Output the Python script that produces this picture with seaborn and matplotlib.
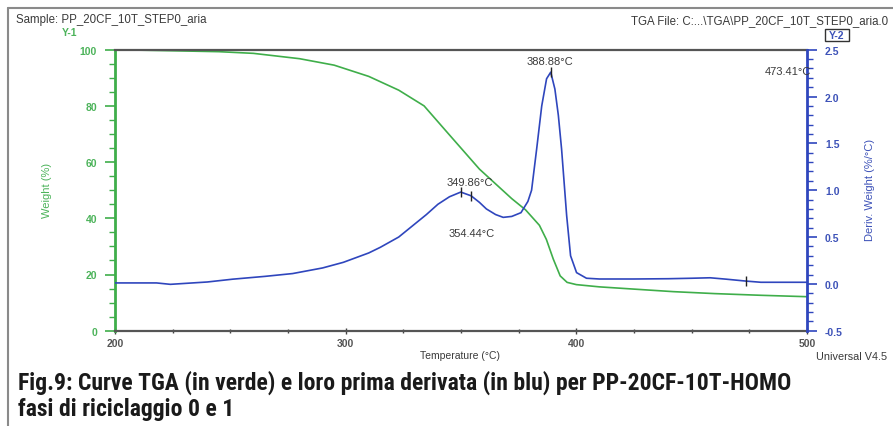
import numpy as np
import pandas as pd
import matplotlib
matplotlib.use("Agg")
import matplotlib.pyplot as plt
from matplotlib.lines import Line2D
from matplotlib.patches import Rectangle
from matplotlib.ticker import MultipleLocator
import seaborn as sns
import logging

logging.getLogger("matplotlib.font_manager").setLevel(logging.ERROR)

# TGA weight curve (Y-1)
temp_w = [200, 220, 245, 260, 280, 295, 310, 323, 334, 344, 358, 372, 378,
          384, 387, 390, 393, 396, 400, 410, 425, 442, 460, 480, 500]
weight = [100, 99.7, 99.3, 98.7, 96.8, 94.5, 90.5, 85.6, 80.0, 70.6, 57.5,
          47.0, 43.0, 37.5, 32.5, 25.5, 19.5, 17.2, 16.4, 15.6, 14.8, 13.9,
          13.2, 12.6, 12.1]

# First derivative of weight (Y-2)
temp_d = [200, 218, 224, 240, 251, 265, 277, 290, 299, 310, 315, 323, 329,
          335, 340, 345, 349.9, 354.4, 358, 361, 365, 368.3, 372, 376, 379,
          380.6, 382.8, 385, 387.1, 388.9, 390.7, 392.2, 393.6, 395.8, 397.5,
          400.1, 404.4, 410, 425, 440, 450, 458, 465, 473.4, 480, 490, 500]
deriv = [0.01, 0.01, -0.005, 0.02, 0.05, 0.08, 0.11, 0.17, 0.23, 0.33, 0.39,
         0.50, 0.62, 0.74, 0.85, 0.93, 0.98, 0.94, 0.87, 0.80, 0.74, 0.71,
         0.72, 0.76, 0.88, 1.00, 1.44, 1.90, 2.19, 2.26, 2.08, 1.80, 1.44,
         0.73, 0.30, 0.12, 0.06, 0.052, 0.052, 0.055, 0.06, 0.065, 0.05,
         0.03, 0.017, 0.017, 0.017]

peak_temps = [349.86, 354.44, 388.88, 473.41]
peak_labels = ["349.86°C", "354.44°C", "388.88°C", "473.41°C"]

x_ticks = [200, 300, 400, 500]
w_ticks = [0, 20, 40, 60, 80, 100]
d_ticks = [-0.5, 0.0, 0.5, 1.0, 1.5, 2.0, 2.5]

sns.set_theme(style="white")
plt.rcParams["font.family"] = ["Liberation Sans", "DejaVu Sans"]

GREEN = "#3fae4a"
GREEN_TXT = "#4cb35a"
BLUE = "#2f46bd"
BLUE_TXT = "#3d52b8"
DARK = "#3a3a3a"

W, H = 893, 427
fig = plt.figure(figsize=(W / 100, H / 100), dpi=100)
fig.patch.set_facecolor("white")
ax = fig.add_axes([115 / W, 1 - 331.7 / H, (807 - 115) / W, (331.7 - 50.7) / H])
ax2 = ax.twinx()

df_w = pd.DataFrame({"Temperature": temp_w, "Weight": weight})
df_d = pd.DataFrame({"Temperature": temp_d, "Deriv": deriv})

sns.lineplot(data=df_w, x="Temperature", y="Weight", ax=ax, color=GREEN,
             lw=1.2, estimator=None, sort=False)
sns.lineplot(data=df_d, x="Temperature", y="Deriv", ax=ax2, color=BLUE,
             lw=1.2, estimator=None, sort=False)

ax.set_xlim(200, 500)
ax.set_ylim(0, 100)
ax2.set_ylim(-0.5, 2.5)

# peak markers on the derivative curve
mark_y = np.interp(peak_temps, temp_d, deriv)
ax2.plot(peak_temps, mark_y, ls="none", marker="|", ms=7, mew=1.0,
         color="#222222")

label_pos = [(353.9, 1.09, "center"), (354.7, 0.54, "center"),
             (388.6, 2.38, "center"), (502.0, 2.27, "right")]
for (tx, ty, ha), lab in zip(label_pos, peak_labels):
    ax2.text(tx, ty, lab, ha=ha, va="center", fontsize=8, color=DARK,
             clip_on=False)

# axes styling
ax.set_xticks(x_ticks)
ax.xaxis.set_minor_locator(MultipleLocator(25))
ax.set_yticks(w_ticks)
ax.yaxis.set_minor_locator(MultipleLocator(5))
ax2.set_yticks(d_ticks)
ax2.yaxis.set_minor_locator(MultipleLocator(0.1))
ax2.set_yticklabels([f"{v:.1f}" for v in d_ticks])

ax.spines["left"].set_color(GREEN)
ax.spines["left"].set_linewidth(2.0)
ax.spines["right"].set_visible(False)
ax.spines["top"].set_color("#555555")
ax.spines["top"].set_linewidth(1.6)
ax.spines["bottom"].set_color("#555555")
ax.spines["bottom"].set_linewidth(1.6)
for s in ["left", "top", "bottom"]:
    ax2.spines[s].set_visible(False)
ax2.spines["right"].set_color(BLUE)
ax2.spines["right"].set_linewidth(2.0)

ax.tick_params(axis="y", which="major", direction="out", length=7, width=1.2,
               color=GREEN, labelcolor=GREEN_TXT, labelsize=7.5, pad=6,
               left=True)
ax.tick_params(axis="y", which="minor", direction="out", length=4, width=1.0,
               color=GREEN, left=True)
ax.tick_params(axis="x", which="major", direction="inout", length=5,
               width=1.0, color="#444444", labelcolor="#555555",
               labelsize=7.5, pad=3, bottom=True)
ax.tick_params(axis="x", which="minor", direction="inout", length=3,
               width=1.0, color="#444444", bottom=True)
ax2.tick_params(axis="y", which="major", direction="out", length=7,
                width=1.2, color=BLUE, labelcolor=BLUE_TXT, labelsize=7.5,
                pad=6, right=True)
ax2.tick_params(axis="y", which="minor", direction="out", length=4,
                width=1.0, color=BLUE, right=True)
for lab in ax.get_yticklabels() + ax2.get_yticklabels() + ax.get_xticklabels():
    lab.set_fontweight("bold")

ax.set_xlabel("")
ax.set_ylabel("")
ax2.set_ylabel("")

# axis titles and header texts
fig.text(47 / W, 1 - 190 / H, "Weight (%)", rotation=90, ha="center",
         va="center", fontsize=8, color=GREEN_TXT)
fig.text(870 / W, 1 - 190 / H, "Deriv. Weight (%/°C)", rotation=90,
         ha="center", va="center", fontsize=8, color=BLUE_TXT)
fig.text(460 / W, 1 - 356 / H, "Temperature (°C)", ha="center", va="center",
         fontsize=7.5, color=DARK)
fig.text(816 / W, 1 - 357 / H, "Universal V4.5", ha="left",
         va="center", fontsize=7.8, color=DARK)
fig.text(16 / W, 1 - 20 / H, "Sample: PP_20CF_10T_STEP0_aria", ha="left",
         va="center", fontsize=8.3, color=DARK)
fig.text(631 / W, 1 - 21 / H, "TGA File: C:...\\TGA\\PP_20CF_10T_STEP0_aria.0",
         ha="left", va="center", fontsize=8.3, color=DARK)
fig.text(70 / W, 1 - 33 / H, "Y-1", ha="center", va="center", fontsize=7.5,
         color=GREEN_TXT, fontweight="bold")
fig.text(837 / W, 1 - 36 / H, "Y-2", ha="center", va="center", fontsize=7.5,
         color=BLUE_TXT, fontweight="bold")
fig.add_artist(Rectangle((825 / W, 1 - 42 / H), 24 / W, 12 / H,
                         transform=fig.transFigure, fill=False,
                         edgecolor="#333333", lw=1.0))

# caption in a condensed bold face, sized to its line width
cap_font = ["Roboto Condensed", "Noto Sans Condensed", "DejaVu Sans Condensed",
            "Liberation Sans Narrow", "DejaVu Sans"]
cap1 = fig.text(18 / W, 1 - 383 / H,
                "Fig.9: Curve TGA (in verde) e loro prima derivata (in blu) per PP-20CF-10T-HOMO",
                ha="left", va="center", fontsize=15.5, fontweight="bold",
                fontstretch="condensed", color="#1a1a1a", family=cap_font)
cap2 = fig.text(18 / W, 1 - 410 / H, "fasi di riciclaggio 0 e 1", ha="left",
                va="center", fontsize=15.5, fontweight="bold",
                fontstretch="condensed", color="#1a1a1a", family=cap_font)
fig.canvas.draw()
width1 = cap1.get_window_extent(fig.canvas.get_renderer()).width
cap_size = 15.5 * 772 / width1
cap1.set_fontsize(cap_size)
cap2.set_fontsize(cap_size)

# page frame
fig.add_artist(Line2D([8 / W, 8 / W], [0, 1 - 9 / H], transform=fig.transFigure,
                      color="#8a8a8a", lw=1.5))
fig.add_artist(Line2D([8 / W, 1], [1 - 9 / H, 1 - 9 / H],
                      transform=fig.transFigure, color="#8a8a8a", lw=1.5))

fig.savefig("out.png", dpi=100, facecolor="white")
